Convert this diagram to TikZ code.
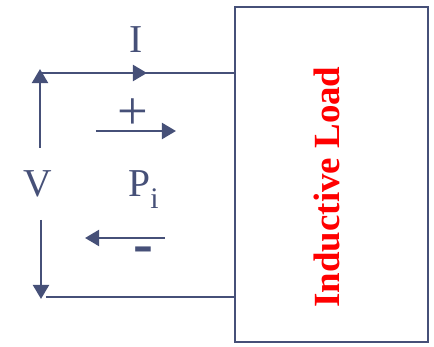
\documentclass[tikz,border=0pt]{standalone}
\usepackage{fontspec}
\setmainfont{Liberation Serif}
\usepackage{xcolor}
\usetikzlibrary{arrows.meta}
\definecolor{wireblue}{HTML}{465078}
\tikzset{wire/.style={draw=wireblue,line width=1.6pt},
         tip/.style={-{Triangle[length=8pt,width=9pt]}},
         load box/.style={draw=wireblue,line width=1.2pt,minimum width=3.86cm,minimum height=6.7cm,inner sep=0pt},
         lbl/.style={text=wireblue,font=\fontsize{22.5}{27}\selectfont,inner sep=0pt},
            }
\begin{document}
\begin{tikzpicture}[x=0.02cm,y=-0.02cm]
	\useasboundingbox (0,0) rectangle (434,347);
	\node[load box] (L) at (331.5,174.5) {};
	\node[rotate=90,text=red,font=\fontsize{21}{25}\selectfont\bfseries] (T) at (327,187) {Inductive Load};
	
	\coordinate (A) at (40,73);
	\coordinate (A1) at (147,73);
	\coordinate (B) at (46,297);
	\coordinate (U0) at (40,148);
	\coordinate (U1) at (40,69);
	\coordinate (D0) at (41,220);
	\coordinate (D1) at (41,299);
	\coordinate (P0) at (96,131);
	\coordinate (P1) at (176,131);
	\coordinate (M0) at (165,238);
	\coordinate (M1) at (85,238);
	
	\node[lbl] (I) at (136,40) {I};
	\node[lbl] (V) at (38,184) {V};
	\node[lbl,anchor=base west] (P) at (128,197) {P\raisebox{-0.3em}{\fontsize{17}{20}\selectfont i}};
	\node[lbl,font=\fontsize{31}{36}\selectfont] (plus) at (133,114) {+};
	\node[lbl,font=\fontsize{34}{40}\selectfont\bfseries] (minus) at (143,255) {-};
	
	\draw[wire] (A) -- (L.west |- A);
	\draw[wire,tip] (A) -- (A1);
	\draw[wire] (B) -- (L.west |- B);
	\draw[wire,tip] (U0) -- (U1);
	\draw[wire,tip] (D0) -- (D1);
	\draw[wire,tip] (P0) -- (P1);
	\draw[wire,tip] (M0) -- (M1);
\end{tikzpicture}
\end{document}
